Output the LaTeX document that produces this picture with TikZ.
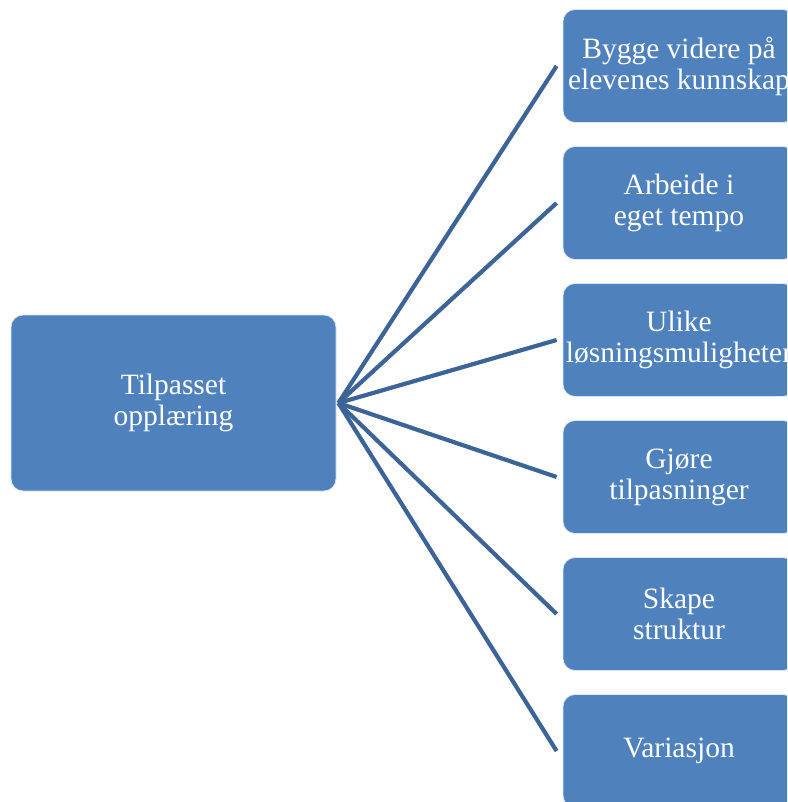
\documentclass[tikz,border=0pt]{standalone}
\usepackage{fontspec}
\setmainfont{Liberation Serif}
\definecolor{boxfill}{HTML}{4F81BD}
\definecolor{boxedge}{HTML}{DCE6F2}
\definecolor{linkcol}{HTML}{3C6496}
\begin{document}
\begin{tikzpicture}[x=1pt,y=-1pt,
  card/.style={rectangle,rounded corners=12pt,fill=boxfill,draw=boxedge,line width=0.8pt,
    text=white,align=center,inner sep=0pt,
    font=\fontsize{29.5}{31}\selectfont},
  link/.style={draw=linkcol,line width=4.2pt}]
\useasboundingbox (0,0) rectangle (787,802);
\begin{scope}
\clip (0,0) rectangle (787,802);
\node[card,minimum width=325pt,minimum height=176pt] (hub) at (173.5,403) {Tilpasset\\opplæring};
\node[card,minimum width=232pt,minimum height=113pt] (b1) at (679,66) {Bygge videre på\\elevenes kunnskap};
\node[card,minimum width=232pt,minimum height=113pt] (b2) at (679,203) {Arbeide i\\eget tempo};
\node[card,minimum width=232pt,minimum height=113pt] (b3) at (679,340) {Ulike\\løsningsmuligheter};
\node[card,minimum width=232pt,minimum height=113pt] (b4) at (679,477) {Gjøre\\tilpasninger};
\node[card,minimum width=232pt,minimum height=113pt] (b5) at (679,614) {Skape\\struktur};
\node[card,minimum width=232pt,minimum height=113pt] (b6) at (679,751) {Variasjon};
\coordinate (hubtip) at ([xshift=2pt]hub.east);
\foreach \n in {b1,b2,b3,b4,b5,b6}
  \draw[link] (hubtip) -- ([xshift=-6pt]\n.west);
\end{scope}
\end{tikzpicture}
\end{document}
